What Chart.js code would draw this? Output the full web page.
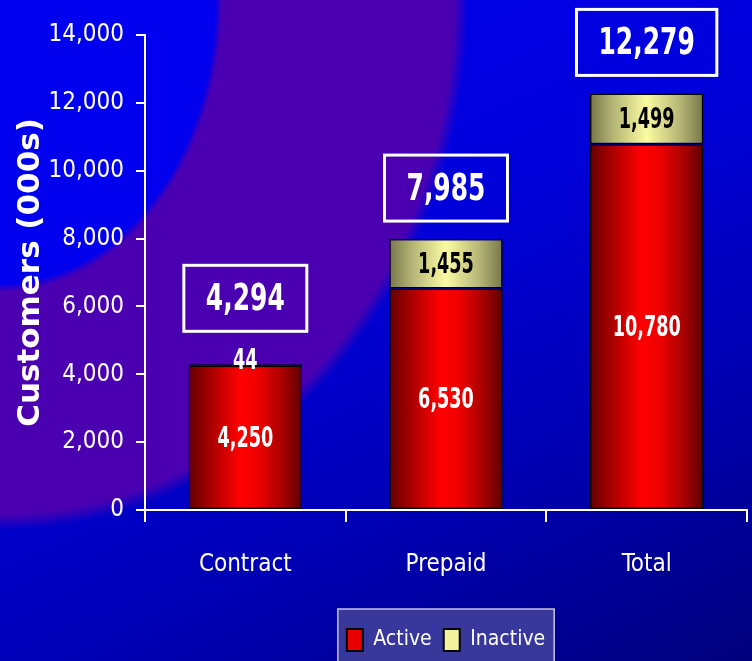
<!DOCTYPE html>
<html>
<head>
<meta charset="utf-8">
<script src="https://cdn.jsdelivr.net/npm/chart.js@4/dist/chart.umd.min.js"></script>
<style>
  html, body { margin: 0; padding: 0; width: 752px; height: 661px; overflow: hidden; }
  body {
    background:
      radial-gradient(ellipse 222px 292px at 0px 0px, #0000ee 0%, #0000ee 97%, rgba(0,0,238,0) 100%),
      radial-gradient(ellipse 468px 530px at 0px 0px, #4b00b4 0%, #4a00b0 97%, rgba(74,0,176,0) 100%),
      linear-gradient(155deg, #0000f0 0%, #0000dc 40%, #0000b0 72%, #00007c 100%);
  }
  canvas { display: block; }
</style>
</head>
<body>
<canvas id="c" width="752" height="661"></canvas>
<script>
const categories = ['Contract', 'Prepaid', 'Total'];
const seriesNames = ['Active', 'Inactive'];
const activeValues = [4250, 6530, 10780];
const inactiveValues = [44, 1455, 1499];
const totalValues = [4294, 7985, 12279];
const yTickLabels = ['0', '2,000', '4,000', '6,000', '8,000', '10,000', '12,000', '14,000'];

const NARROW = "'Liberation Sans Narrow', 'Arial Narrow', 'DejaVu Sans Condensed', sans-serif";
const BAR_PCT = 0.565;
const redStops = [[0, '#640000'], [0.15, '#9a0000'], [0.45, '#ff0000'], [0.62, '#ee0000'], [0.85, '#a00000'], [1, '#5e0000']];
const yellowStops = [[0, '#76764a'], [0.2, '#b4b476'], [0.5, '#fbfba2'], [0.8, '#b4b476'], [1, '#76764a']];
const fmt = v => v.toLocaleString('en-US');

function barGradient(stops) {
  return function (ctx) {
    const chart = ctx.chart;
    const xs = chart.scales && chart.scales.x;
    if (!xs || !chart.chartArea || ctx.dataIndex === undefined) return stops[2][1];
    const cx = xs.getPixelForValue(ctx.dataIndex);
    const w = (chart.chartArea.right - chart.chartArea.left) / categories.length * BAR_PCT;
    const g = chart.ctx.createLinearGradient(cx - w / 2, 0, cx + w / 2, 0);
    stops.forEach(s => g.addColorStop(s[0], s[1]));
    return g;
  };
}

function scaledText(c, txt, x, y, sx) {
  c.save();
  c.translate(x, y);
  c.scale(sx, 1);
  c.fillText(txt, 0, 0);
  c.restore();
}

const decor = {
  id: 'decor',
  beforeDraw(chart) {
    const lg = chart.legend;
    if (lg && lg.legendHitBoxes && lg.legendHitBoxes.length) {
      const hb = lg.legendHitBoxes;
      const left = Math.min(...hb.map(h => h.left)) - 9;
      const right = Math.max(...hb.map(h => h.left + h.width)) + 9;
      const top = hb[0].top - 20;
      const c = chart.ctx;
      c.save();
      c.fillStyle = '#37379c';
      c.strokeStyle = '#c4c4e4';
      c.lineWidth = 1.5;
      c.fillRect(left, top, right - left, chart.height - top + 5);
      c.strokeRect(left, top, right - left, chart.height - top + 5);
      c.restore();
    }
  },
  afterDatasetsDraw(chart) {
    const c = chart.ctx;
    const m0 = chart.getDatasetMeta(0), m1 = chart.getDatasetMeta(1);
    c.save();
    c.textAlign = 'center';
    c.textBaseline = 'middle';
    c.font = `bold 28px ${NARROW}`;
    const SX = 0.7;
    m0.data.forEach((el, i) => {
      c.fillStyle = '#ffffff';
      scaledText(c, fmt(activeValues[i]), el.x, (el.y + el.base) / 2 + 2, SX);
    });
    m1.data.forEach((el, i) => {
      const h = Math.abs(el.base - el.y);
      if (h < 30) {
        c.fillStyle = '#ffffff';
        scaledText(c, fmt(inactiveValues[i]), el.x, el.y - 3, SX);
      } else {
        c.fillStyle = '#000000';
        scaledText(c, fmt(inactiveValues[i]), el.x, (el.y + el.base) / 2 + 2, SX);
      }
    });
    c.font = `bold 37px ${NARROW}`;
    const TSX = 0.75;
    m1.data.forEach((el, i) => {
      const h = Math.abs(el.base - el.y);
      const gap = h < 30 ? 33 : 18;
      const txt = fmt(totalValues[i]);
      const tw = c.measureText(txt).width * TSX;
      const bw = tw + 44, bh = 66;
      const bottom = el.y - gap;
      c.strokeStyle = '#ffffff';
      c.lineWidth = 3;
      c.strokeRect(el.x - bw / 2, bottom - bh, bw, bh);
      c.fillStyle = '#ffffff';
      scaledText(c, txt, el.x, bottom - bh / 2 + 2, TSX);
    });
    c.restore();
  }
};

new Chart(document.getElementById('c'), {
  type: 'bar',
  data: {
    labels: categories,
    datasets: [
      { label: seriesNames[0], data: activeValues, backgroundColor: barGradient(redStops),
        borderColor: '#000', borderWidth: 1.5, borderSkipped: false,
        barPercentage: BAR_PCT, categoryPercentage: 1 },
      { label: seriesNames[1], data: inactiveValues, backgroundColor: barGradient(yellowStops),
        borderColor: '#000', borderWidth: 1.5, borderSkipped: false,
        barPercentage: BAR_PCT, categoryPercentage: 1 }
    ]
  },
  options: {
    responsive: false,
    animation: false,
    layout: { padding: { left: 0, right: 5, top: 35, bottom: 0 } },
    plugins: {
      tooltip: { enabled: false },
      legend: {
        position: 'bottom',
        fullSize: false,
        labels: {
          color: '#fff',
          font: { family: NARROW, size: 21, lineHeight: 1 },
          boxWidth: 16, boxHeight: 22, padding: 12,
          generateLabels: () => seriesNames.map((n, i) => ({
            text: n, fillStyle: i === 0 ? '#e80000' : '#f2f29c', strokeStyle: '#000',
            lineWidth: 2, fontColor: '#fff', hidden: false, datasetIndex: i
          }))
        }
      }
    },
    scales: {
      x: {
        stacked: true,
        grid: { display: true, drawOnChartArea: false, color: '#fff', lineWidth: 2, tickLength: 12, offset: true },
        border: { color: '#fff', width: 2 },
        ticks: { color: '#fff', font: { family: NARROW, size: 24 }, padding: 28 },
        afterFit(s) { s.height = 107; }
      },
      y: {
        stacked: true, min: 0, max: 14000,
        ticks: { stepSize: 2000, color: '#fff', font: { family: NARROW, size: 24 }, padding: 12,
          callback: v => yTickLabels[Math.round(v / 2000)] },
        grid: { drawOnChartArea: false, color: '#fff', lineWidth: 2, tickLength: 9 },
        border: { color: '#fff', width: 2 },
        title: { display: true, text: 'Customers (000s)', color: '#fff',
          font: { family: 'DejaVu Sans', weight: 'bold', size: 31 }, padding: { top: 12, bottom: 0 } },
        afterFit(s) { s.width = 145; }
      }
    }
  },
  plugins: [decor]
});
</script>
</body>
</html>
